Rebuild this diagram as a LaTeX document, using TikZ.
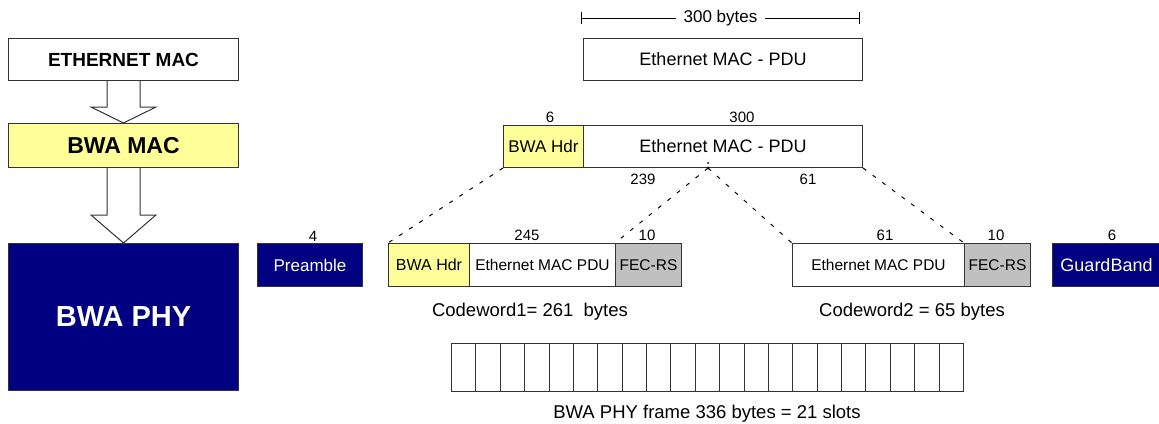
\documentclass[tikz,border=0pt]{standalone}
\usepackage{fontspec}
\setmainfont{Liberation Sans}
\usetikzlibrary{calc,arrows.meta}
\definecolor{bwanavy}{RGB}{0,0,128}
\definecolor{hdryellow}{RGB}{255,255,153}
\definecolor{fecgray}{RGB}{192,192,192}
\newcommand{\setfs}[1]{\fontsize{#1}{#1}\selectfont}
\tikzset{
  layerbox/.style={draw=black!80, line width=1pt, inner sep=0pt, anchor=north west, minimum width=230pt},
  fieldbox/.style={draw=black!80, line width=1pt, inner sep=0pt, anchor=north west, minimum height=43pt},
  slotbox/.style={draw=black!80, line width=1pt, inner sep=0pt, anchor=north west, minimum width=24.38pt, minimum height=48pt},
  countlbl/.style={font=\setfs{15}},
  textlbl/.style={font=\setfs{18.5}},
  cutline/.style={dash pattern=on 4pt off 8pt, line width=1pt},
  fatarrow/.style={draw=black!80, line width=1pt, fill=white}
}
\begin{document}
\begin{tikzpicture}[x=1pt,y=-1pt]
\useasboundingbox[fill=white] (0,0) rectangle (1159,423);

% protocol stack
\node[layerbox, minimum height=42pt, font=\bfseries\setfs{19}] (ethmac) at (8,38) {ETHERNET MAC};
\node[layerbox, fill=hdryellow, minimum height=44pt, font=\bfseries\setfs{23}] (bwamac) at (8,123) {BWA MAC};
\node[layerbox, fill=bwanavy, text=white, minimum height=147pt, font=\bfseries\setfs{29}] (bwaphy) at (8,243) {BWA PHY};

\draw[fatarrow] ($(ethmac.south)+(-16.5,0)$) -- ++(0,26) -- ++(-16,0) -- (bwamac.north)
  -- ($(ethmac.south)+(32.5,26)$) -- ++(-16,0) -- ($(ethmac.south)+(16.5,0)$);
\draw[fatarrow] ($(bwamac.south)+(-16.5,0)$) -- ++(0,47) -- ++(-16,0) -- (bwaphy.north)
  -- ($(bwamac.south)+(32.5,47)$) -- ++(-16,0) -- ($(bwamac.south)+(16.5,0)$);

% ethernet frame
\coordinate (dimL) at (581,18);
\coordinate (dimR) at (860,18);
\draw[{Bar[width=12pt]}-{Bar[width=12pt]}, line width=1pt] (dimL) -- (dimR)
  node[midway, fill=white, inner xsep=8pt, font=\setfs{17}] (dimlbl) {300 bytes};
\node[fieldbox, minimum width=279pt, minimum height=42pt, font=\setfs{18}] (pdutop) at (583,38) {Ethernet MAC - PDU};

\node[fieldbox, fill=hdryellow, minimum width=80pt, minimum height=42pt, font=\setfs{17}] (hdr2) at (503,125) {BWA Hdr};
\node[fieldbox, minimum width=279pt, minimum height=42pt, font=\setfs{18}] (pdu2) at (583,125) {Ethernet MAC - PDU};
\node[countlbl] (hdr2n) at (550,117) {6};
\node[countlbl] (pdu2n) at (742,117) {300};
\node[countlbl] (part1n) at (643,179) {239};
\node[countlbl] (part2n) at (808,179) {61};
\coordinate (split) at ($(pdu2.south west)+(125,0)$);
\fill (split) circle[radius=1.5pt];
\fill ($(split)+(0,-5)$) circle[radius=1pt];

% codewords
\node[fieldbox, fill=bwanavy, text=white, minimum width=105pt, font=\setfs{17}] (preamble) at (257,243) {Preamble};
\node[countlbl] (preamblen) at (313,236) {4};

\node[fieldbox, fill=hdryellow, minimum width=81pt, font=\setfs{16}] (hdr1) at (388,243) {BWA Hdr};
\node[fieldbox, minimum width=146pt, font=\setfs{15.5}] (pdu1) at (469,243) {Ethernet MAC PDU};
\node[fieldbox, fill=fecgray, minimum width=66pt, font=\setfs{15.5}] (fec1) at (615,243) {FEC-RS};
\node[countlbl] (pdu1n) at (527,235) {245};
\node[countlbl] (fec1n) at (647,235) {10};
\node[textlbl] (cw1) at (530,312) {Codeword1= 261\ \ bytes};

\node[fieldbox, minimum width=172pt, font=\setfs{15.5}] (pdu3) at (792,243) {Ethernet MAC PDU};
\node[fieldbox, fill=fecgray, minimum width=66pt, font=\setfs{15.5}] (fec2) at (964,243) {FEC-RS};
\node[countlbl] (pdu3n) at (885,235) {61};
\node[countlbl] (fec2n) at (996,235) {10};
\node[textlbl] (cw2) at (912,312) {Codeword2 = 65 bytes};

\node[fieldbox, fill=bwanavy, text=white, minimum width=108pt, font=\setfs{18}] (guard) at (1052,243) {GuardBand};
\node[countlbl] (guardn) at (1112,235) {6};

\draw[cutline] (hdr2.south west) -- (hdr1.north west);
\draw[cutline] (split) -- (fec1.north west);
\draw[cutline] (split) -- (pdu3.north west);
\draw[cutline] (pdu2.south east) -- (fec2.north west);

% phy frame
\foreach \i in {1,...,21}
  \node[slotbox] (slot\i) at ({451+(\i-1)*24.38},343) {};
\node[textlbl] (framelbl) at (707,414) {BWA PHY frame 336 bytes = 21 slots};
\end{tikzpicture}
\end{document}
